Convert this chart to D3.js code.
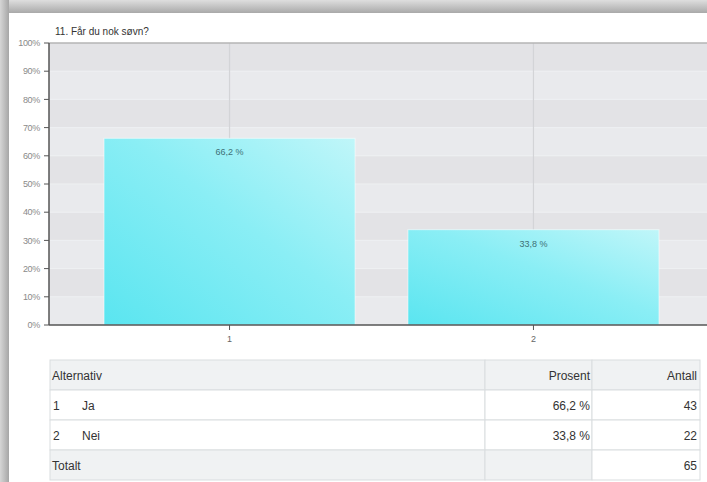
<!DOCTYPE html>
<html>
<head>
<meta charset="utf-8">
<script src="https://cdn.jsdelivr.net/npm/d3@7"></script>
<style>
  html, body { margin: 0; padding: 0; background: #fff; }
  svg { display: block; font-family: Arial, "Liberation Sans", sans-serif; }
</style>
</head>
<body>
<div id="chart"></div>
<script>
// data
const title = '11. Får du nok søvn?';
const categories = ['1', '2'];
const labels = ['Ja', 'Nei'];
const percents = [66.2, 33.8];
const counts = [43, 22];
const yTicks = [0, 10, 20, 30, 40, 50, 60, 70, 80, 90, 100];
const tableHead = ['Alternativ', 'Prosent', 'Antall'];
const totalLabel = 'Totalt';

const W = 707, H = 482;
const plot = { left: 49, top: 43, bottom: 325, right: 714 };
const fmt = v => d3.format('.1f')(v).replace('.', ',') + ' %';

const svg = d3.select('#chart').append('svg')
  .attr('width', W)
  .attr('height', H);

const defs = svg.append('defs');

// card shadow gradients
const gTop = defs.append('linearGradient').attr('id', 'shTop')
  .attr('x1', 0).attr('y1', 0).attr('x2', 0).attr('y2', 1);
gTop.append('stop').attr('offset', '0%').attr('stop-color', '#dedede');
gTop.append('stop').attr('offset', '100%').attr('stop-color', '#a9a9a9');

const gLeft = defs.append('linearGradient').attr('id', 'shLeft')
  .attr('x1', 0).attr('y1', 0).attr('x2', 1).attr('y2', 0);
gLeft.append('stop').attr('offset', '0%').attr('stop-color', '#d6d6d6');
gLeft.append('stop').attr('offset', '100%').attr('stop-color', '#a6a6a6');

const gBar = defs.append('linearGradient').attr('id', 'barFill')
  .attr('x1', 0).attr('y1', 1).attr('x2', 1).attr('y2', 0);
gBar.append('stop').attr('offset', '0%').attr('stop-color', '#5ae5f0');
gBar.append('stop').attr('offset', '55%').attr('stop-color', '#8aeef5');
gBar.append('stop').attr('offset', '100%').attr('stop-color', '#c0f6f9');

svg.append('rect').attr('x', 0).attr('y', 0).attr('width', W).attr('height', 13)
  .attr('fill', 'url(#shTop)');
svg.append('rect').attr('x', 0).attr('y', 0).attr('width', 9).attr('height', H)
  .attr('fill', 'url(#shLeft)');
svg.append('rect').attr('x', 9).attr('y', 13).attr('width', W - 9).attr('height', H - 13)
  .attr('fill', '#fff');

// scales
const y = d3.scaleLinear().domain([0, 100]).range([plot.bottom, plot.top]);
const x = d3.scaleBand().domain(categories)
  .range([plot.left, plot.right])
  .paddingInner(0.174)
  .paddingOuter(0.181);
const xc = d => x(d) + x.bandwidth() / 2;

// plot background bands
const bands = d3.range(0, 100, 10);
svg.append('g').selectAll('rect')
  .data(bands)
  .enter().append('rect')
  .attr('x', plot.left)
  .attr('y', d => y(d + 10))
  .attr('width', W - plot.left)
  .attr('height', d => y(d) - y(d + 10))
  .attr('fill', (d, i) => i % 2 ? '#e3e3e6' : '#e9eaed');

svg.append('g').selectAll('line')
  .data(yTicks.slice(1, -1))
  .enter().append('line')
  .attr('x1', plot.left).attr('x2', W)
  .attr('y1', d => y(d)).attr('y2', d => y(d))
  .attr('stroke', '#eef0f2').attr('stroke-width', 1);

// vertical grid at categories
svg.append('g').selectAll('line')
  .data(categories)
  .enter().append('line')
  .attr('x1', d => xc(d)).attr('x2', d => xc(d))
  .attr('y1', plot.top).attr('y2', plot.bottom)
  .attr('stroke', '#d3d4d7').attr('stroke-width', 1.2);

// top border
svg.append('line')
  .attr('x1', plot.left).attr('x2', W)
  .attr('y1', plot.top).attr('y2', plot.top)
  .attr('stroke', '#b4b4b4').attr('stroke-width', 1.5);

// bars
svg.append('g').selectAll('rect')
  .data(percents)
  .enter().append('rect')
  .attr('x', (d, i) => x(categories[i]))
  .attr('y', d => y(d))
  .attr('width', x.bandwidth())
  .attr('height', d => y(0) - y(d))
  .attr('fill', 'url(#barFill)')
  .attr('stroke', 'rgba(255,255,255,0.55)')
  .attr('stroke-width', 1);

svg.append('g').selectAll('text')
  .data(percents)
  .enter().append('text')
  .attr('x', (d, i) => xc(categories[i]))
  .attr('y', d => y(d) + 17)
  .attr('text-anchor', 'middle')
  .attr('font-size', 9)
  .attr('fill', '#3e7076')
  .text(fmt);

// y axis
const yAxis = svg.append('g');
yAxis.append('line')
  .attr('x1', plot.left).attr('x2', plot.left)
  .attr('y1', plot.top).attr('y2', plot.bottom)
  .attr('stroke', '#555').attr('stroke-width', 1.5);
const yt = yAxis.selectAll('g.tick')
  .data(yTicks)
  .enter().append('g')
  .attr('transform', d => 'translate(0,' + y(d) + ')');
yt.append('line')
  .attr('x1', plot.left - 5).attr('x2', plot.left)
  .attr('stroke', '#555').attr('stroke-width', 1);
yt.append('text')
  .attr('x', 40)
  .attr('dy', '0.35em')
  .attr('text-anchor', 'end')
  .attr('font-size', 9)
  .attr('letter-spacing', -0.3)
  .attr('fill', '#8a8a8a')
  .text(d => d + '%');

// x axis
svg.append('line')
  .attr('x1', plot.left).attr('x2', W)
  .attr('y1', plot.bottom).attr('y2', plot.bottom)
  .attr('stroke', '#555').attr('stroke-width', 1.5);
const xt = svg.append('g').selectAll('g')
  .data(categories)
  .enter().append('g')
  .attr('transform', d => 'translate(' + xc(d) + ',' + plot.bottom + ')');
xt.append('line').attr('y1', 0).attr('y2', 5)
  .attr('stroke', '#555').attr('stroke-width', 1);
xt.append('text')
  .attr('y', 17)
  .attr('text-anchor', 'middle')
  .attr('font-size', 9)
  .attr('fill', '#666')
  .text(d => d);

// title
svg.append('text')
  .attr('x', 55).attr('y', 35)
  .attr('font-size', 10)
  .attr('fill', '#333')
  .text(title);

// table
const tbl = { left: 50, right: 700, top: 360, rowH: 30, col1: 485, col2: 592 };
const rows = [
  { cells: tableHead, fill: ['#f0f2f3', '#f0f2f3', '#f0f2f3'] }
].concat(labels.map((l, i) => ({
  num: categories[i], label: l, cells: [l, fmt(percents[i]), String(counts[i])],
  fill: ['#fff', '#fff', '#fff']
}))).concat([
  { cells: [totalLabel, '', String(d3.sum(counts))], fill: ['#f0f2f3', '#f0f2f3', '#fff'] }
]);
const colX = [[tbl.left, tbl.col1], [tbl.col1, tbl.col2], [tbl.col2, tbl.right]];
const tg = svg.append('g').attr('font-size', 12).attr('fill', '#333');
rows.forEach((r, ri) => {
  const y0 = tbl.top + ri * tbl.rowH;
  colX.forEach((c, ci) => {
    tg.append('rect')
      .attr('x', c[0]).attr('y', y0)
      .attr('width', c[1] - c[0]).attr('height', tbl.rowH)
      .attr('fill', r.fill[ci])
      .attr('stroke', '#d9dddf').attr('stroke-width', 1);
  });
  const by = y0 + 20;
  if (r.num) {
    tg.append('text').attr('x', tbl.left + 3).attr('y', by).text(r.num);
    tg.append('text').attr('x', tbl.left + 32).attr('y', by).text(r.label);
  } else {
    tg.append('text').attr('x', tbl.left + 2).attr('y', by).text(r.cells[0]);
  }
  tg.append('text').attr('x', tbl.col2 - 2).attr('y', by)
    .attr('text-anchor', 'end').text(r.cells[1]);
  tg.append('text').attr('x', tbl.right - 3).attr('y', by)
    .attr('text-anchor', 'end').text(r.cells[2]);
});
</script>
</body>
</html>
